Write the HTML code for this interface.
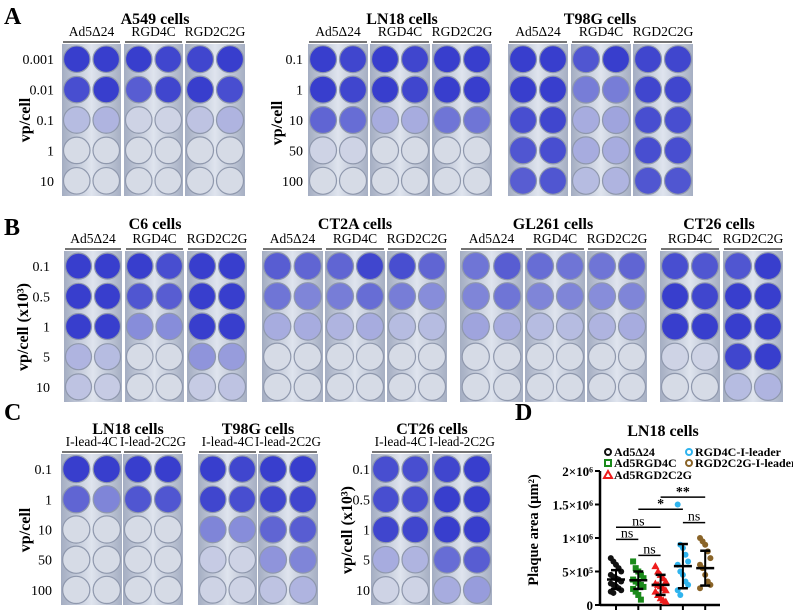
<!DOCTYPE html>
<html><head><meta charset="utf-8"><style>
html,body{margin:0;padding:0;background:#fff;width:793px;height:613px;overflow:hidden}
svg{display:block;font-family:"Liberation Serif",serif}
</style></head><body>
<svg id="fig" width="793" height="613" viewBox="0 0 793 613">
<defs>
<linearGradient id="pg" x1="0" y1="0" x2="1" y2="0">
<stop offset="0" stop-color="#a4adc2"/><stop offset="0.5" stop-color="#dfe4ee"/><stop offset="1" stop-color="#a6afc3"/>
</linearGradient>
</defs>
<g id="plates"></g>
<g id="labels">
<text x="4" y="24" font-size="24" font-weight="bold">A</text>
<text x="4" y="235" font-size="24" font-weight="bold">B</text>
<text x="4" y="420" font-size="24" font-weight="bold">C</text>
<text x="515" y="420" font-size="24" font-weight="bold">D</text>
<text transform="translate(30,120) rotate(-90)" text-anchor="middle" font-size="16" font-weight="bold">vp/cell</text>
<text transform="translate(282,123) rotate(-90)" text-anchor="middle" font-size="16" font-weight="bold">vp/cell</text>
<text transform="translate(28,327) rotate(-90)" text-anchor="middle" font-size="16" font-weight="bold">vp/cell (x10³)</text>
<text transform="translate(30,530) rotate(-90)" text-anchor="middle" font-size="16" font-weight="bold">vp/cell</text>
<text transform="translate(352,530) rotate(-90)" text-anchor="middle" font-size="16" font-weight="bold">vp/cell (x10³)</text>
</g>
<g id="chart"></g>
</svg>
<script>
const NS="http://www.w3.org/2000/svg";
function mk(parent,tag,attrs,text){const e=document.createElementNS(NS,tag);for(const k in attrs)e.setAttribute(k,attrs[k]);if(text!==undefined)e.textContent=text;parent.appendChild(e);return e;}

/* ---------- well plate data (stain intensity 0..1) ---------- */
const rowsA1=["0.001","0.01","0.1","1","10"];
const rowsA2=["0.1","1","10","50","100"];
const rowsB=["0.1","0.5","1","5","10"];
const rowsC1=["0.1","1","10","50","100"];
const rowsC2=["0.1","0.5","1","5","10"];
const groups=[
 {name:"A549 cells",tx:155,ty:24,hy:38,ly:42,py:44,ph:152,rowLabels:rowsA1,lx:54,plates:[
  {h:"Ad5Δ24",x:62,w:59,v:[[1,1],[.9,1],[.2,.25],[0,0],[0,0]]},
  {h:"RGD4C",x:124,w:59,v:[[1,.95],[.8,.95],[.05,.05],[0,0],[0,0]]},
  {h:"RGD2C2G",x:185,w:60,v:[[.95,1],[1,.9],[.15,.25],[0,0],[0,0]]}]},
 {name:"LN18 cells",tx:402,ty:24,hy:38,ly:42,py:44,ph:152,rowLabels:rowsA2,lx:303,plates:[
  {h:"Ad5Δ24",x:308,w:60,v:[[1,.95],[1,.95],[.75,.7],[.05,.05],[0,0]]},
  {h:"RGD4C",x:370,w:60,v:[[1,.95],[1,.95],[.3,.3],[0,0],[0,0]]},
  {h:"RGD2C2G",x:432,w:60,v:[[1,1],[1,1],[.65,.65],[0,0],[0,0]]}]},
 {name:"T98G cells",tx:600,ty:24,hy:38,ly:42,py:44,ph:152,rowLabels:null,plates:[
  {h:"Ad5Δ24",x:508,w:60,v:[[1,1],[1,1],[.9,.95],[.85,.9],[.8,.85]]},
  {h:"RGD4C",x:571,w:60,v:[[.85,1],[.6,.6],[.3,.35],[.3,.3],[.2,.25]]},
  {h:"RGD2C2G",x:633,w:60,v:[[.95,.95],[.95,.95],[.9,.9],[.9,.9],[.85,.85]]}]},
 {name:"C6 cells",tx:155,ty:229,hy:245,ly:249,py:251,ph:151,rowLabels:rowsB,lx:50,plates:[
  {h:"Ad5Δ24",x:64,w:58,v:[[1,1],[1,1],[1,1],[.25,.2],[.15,.1]]},
  {h:"RGD4C",x:125,w:59,v:[[1,.9],[.85,.8],[.5,.5],[0,0],[0,0]]},
  {h:"RGD2C2G",x:187,w:60,v:[[1,1],[1,1],[1,1],[.45,.4],[.1,.15]]}]},
 {name:"CT2A cells",tx:355,ty:229,hy:245,ly:249,py:251,ph:151,rowLabels:null,plates:[
  {h:"Ad5Δ24",x:262,w:61,v:[[.8,.75],[.65,.55],[.3,.3],[0,0],[0,0]]},
  {h:"RGD4C",x:325,w:60,v:[[.75,.95],[.6,.7],[.25,.3],[0,0],[0,0]]},
  {h:"RGD2C2G",x:387,w:60,v:[[.9,.75],[.6,.5],[.2,.2],[0,0],[0,0]]}]},
 {name:"GL261 cells",tx:553,ty:229,hy:245,ly:249,py:251,ph:151,rowLabels:null,plates:[
  {h:"Ad5Δ24",x:460,w:63,v:[[.65,.8],[.55,.65],[.35,.3],[0,0],[0,0]]},
  {h:"RGD4C",x:525,w:60,v:[[.7,.65],[.55,.55],[.2,.2],[0,0],[0,0]]},
  {h:"RGD2C2G",x:587,w:60,v:[[.65,.75],[.5,.55],[.25,.3],[0,0],[0,0]]}]},
 {name:"CT26 cells",tx:719,ty:229,hy:245,ly:249,py:251,ph:151,rowLabels:null,plates:[
  {h:"RGD4C",x:660,w:60,v:[[.9,.85],[1,.95],[1,1],[.05,.05],[0,0]]},
  {h:"RGD2C2G",x:723,w:60,v:[[.85,1],[1,1],[1,1],[.95,1],[.2,.25]]}]},
 {name:"LN18 cells",tx:128,ty:434,hy:448,ly:452,py:454,ph:151,rowLabels:rowsC1,lx:52,plates:[
  {h:"I-lead-4C",x:61,w:61,v:[[1,1],[.75,.55],[0,0],[0,0],[0,0]]},
  {h:"I-lead-2C2G",x:123,w:60,v:[[1,1],[.85,.85],[0,0],[0,0],[0,0]]}]},
 {name:"T98G cells",tx:258,ty:434,hy:448,ly:452,py:454,ph:151,rowLabels:null,plates:[
  {h:"I-lead-4C",x:198,w:59,v:[[1,.95],[.95,.9],[.55,.5],[.1,.05],[.05,.05]]},
  {h:"I-lead-2C2G",x:258,w:60,v:[[1,1],[.95,.95],[.75,.8],[.45,.55],[.15,.25]]}]},
 {name:"CT26 cells",tx:432,ty:434,hy:448,ly:452,py:454,ph:151,rowLabels:rowsC2,lx:370,plates:[
  {h:"I-lead-4C",x:371,w:59,v:[[.9,.9],[.9,.9],[.95,.95],[.3,.25],[.05,.05]]},
  {h:"I-lead-2C2G",x:432,w:60,v:[[.95,1],[1,1],[1,1],[.7,.8],[.3,.4]]}]}
];
function wellColor(t){const a=[214,219,230],b=[56,62,205];const c=a.map((v,i)=>Math.round(v+(b[i]-v)*t));return `rgb(${c[0]},${c[1]},${c[2]})`;}
const pg=document.getElementById('plates');
groups.forEach((g,gi)=>{
  const gg=mk(pg,'g',{});
  
  
  const t=mk(gg,'text',{x:g.tx,y:g.ty,'text-anchor':'middle','font-size':16,'font-weight':'bold'},g.name);
  
  
  const rh=g.ph/5;
  g.plates.forEach(p=>{
    const h=mk(gg,'text',{x:p.x+p.w/2,y:g.hy-2,'text-anchor':'middle','font-size':13.5},p.h);
    
    
    const tl=h.getComputedTextLength();
    if(tl>p.w+6){h.setAttribute('textLength',p.w+6);h.setAttribute('lengthAdjust','spacingAndGlyphs');}
    const ul=mk(gg,'line',{x1:p.x+1,x2:p.x+p.w-1,y1:g.ly,y2:g.ly,stroke:'#222','stroke-width':1.2});
    
    
    const r=mk(gg,'rect',{x:p.x,y:g.py,width:p.w,height:g.ph,fill:'url(#pg)'});
    
    
    const rad=Math.min(p.w/4-1.5,rh/2-1.5);
    p.v.forEach((row,ri)=>{row.forEach((val,ci)=>{
      const c=mk(gg,'circle',{cx:p.x+p.w*(ci*2+1)/4,cy:g.py+rh*(ri+0.5),r:rad,fill:wellColor(val),stroke:'#8f98ad','stroke-width':1.2});
      
      
    });});
  });
  if(g.rowLabels){g.rowLabels.forEach((l,ri)=>{
    const tl=mk(gg,'text',{x:g.lx,y:g.py+rh*(ri+0.5)+5,'text-anchor':'end','font-size':14},l);
    
    
  });}
});

/* ---------- Panel D chart data ---------- */
const groupNames=["Ad5Δ24","Ad5RGD4C","Ad5RGD2C2G","RGD4C-I-leader","RGD2C2G-I-leader"];
const g1=[7,6.5,6,5.5,5,4.5,4.2,4,3.8,3.5,3.2,3,2.8,2.5,2.2,2,1.8];
const g2=[6.5,5.5,5,4.5,4,3.8,3.5,3.3,3,2.7,2.4,2,1.5,0.8];
const g3=[5.8,5,4.5,4,3.5,3.2,3,2.8,2.5,2.2,2,1.5,1,0.7,0.5];
const g4=[15,9,8.5,7.5,6.5,6,5,4.5,3.5,3,2.2,1.5];
const g5=[10,9.5,9,8,7,6,5.5,4.5,3.5,3,2.5];
const means=[3.8,3.7,3.0,5.8,5.5];
const sds=[1.4,1.3,1.5,3.3,2.6];
const yTicks=[0,5,10,15,20];
const yTickLabels=["0","5×10⁵","1×10⁶","1.5×10⁶","2×10⁶"];
const sigPairs=[[0,1,"ns",9.8],[1,2,"ns",7.4],[0,2,"ns",11.6],[1,3,"*",14.3],[2,4,"**",16.1],[3,4,"ns",12.3]];
const colors=["#111","#1a8a1a","#ee1c1c","#2fb4ee","#8a6428"];
const shapes=["circle","square","triangle","circle","circle"];

const X0=600,Y0=605,Y20=471,GX0=616,GDX=22.3;
const ys=v=>Y0-(v/20)*(Y0-Y20);
const xs=i=>GX0+i*GDX;
const ch=document.getElementById('chart');
let e=mk(ch,'text',{x:663,y:436,'text-anchor':'middle','font-size':16,'font-weight':'bold'},'LN18 cells');


e=mk(ch,'text',{transform:'translate(538,530) rotate(-90)','text-anchor':'middle','font-size':14.5,'font-weight':'bold'},'Plaque area (µm²)');


e=mk(ch,'line',{x1:X0,x2:X0,y1:Y20,y2:Y0,stroke:'#000','stroke-width':2.5});


e=mk(ch,'line',{x1:X0,x2:720,y1:Y0,y2:Y0,stroke:'#000','stroke-width':2.5});


yTicks.forEach((t,i)=>{
  const tk=mk(ch,'line',{x1:X0-5,x2:X0,y1:ys(t),y2:ys(t),stroke:'#000','stroke-width':2});
  
  
  const tl=mk(ch,'text',{x:X0-7,y:ys(t)+5,'text-anchor':'end','font-size':13,'font-weight':'bold'},yTickLabels[i]);
  
  
});
groupNames.forEach((n,i)=>{
  const tk=mk(ch,'line',{x1:xs(i),x2:xs(i),y1:Y0,y2:Y0+5,stroke:'#000','stroke-width':2});
  
  
});
function marker(parent,shape,x,y,col,s){
  if(shape==="square")return mk(parent,'rect',{x:x-s,y:y-s,width:2*s,height:2*s,fill:col});
  if(shape==="triangle")return mk(parent,'polygon',{points:`${x},${y-s-1} ${x-s-1},${y+s} ${x+s+1},${y+s}`,fill:col});
  return mk(parent,'circle',{cx:x,cy:y,r:s,fill:col});
}
[g1,g2,g3,g4,g5].forEach((arr,gi)=>{
  const sg=mk(ch,'g',{});
  
  
  arr.forEach((v,k)=>{
    const off=((k%5)-2)*2.6;
    const m=marker(sg,shapes[gi],xs(gi)+off,ys(v),colors[gi],3);
    
    
  });
  const mx=xs(gi),m=means[gi],s=sds[gi];
  const el=mk(sg,'line',{x1:mx,x2:mx,y1:ys(m+s),y2:ys(m-s),stroke:'#000','stroke-width':2});
  
  
  [[m+s,5],[m-s,5],[m,9]].forEach(([v,hw])=>{
    const c=mk(sg,'line',{x1:mx-hw,x2:mx+hw,y1:ys(v),y2:ys(v),stroke:'#000','stroke-width':2.5});
    
    
  });
});
sigPairs.forEach(([a,b,lab,v])=>{
  const y=ys(v);
  const l=mk(ch,'line',{x1:xs(a),x2:xs(b),y1:y,y2:y,stroke:'#000','stroke-width':1.5});
  
  
  const t=mk(ch,'text',{x:(xs(a)+xs(b))/2,y:lab==="ns"?y-2:y-1,'text-anchor':'middle','font-size':14,'font-weight':lab==="ns"?'normal':'bold'},lab);
  
  
});
const legPos=[[608,452],[608,463],[608,475],[689,452],[689,463]];
groupNames.forEach((n,i)=>{
  const lg=mk(ch,'g',{});
  
  
  const [lx,ly]=legPos[i];
  if(shapes[i]==="circle")mk(lg,'circle',{cx:lx,cy:ly,r:3,fill:'none',stroke:colors[i],'stroke-width':2});
  else if(shapes[i]==="square")mk(lg,'rect',{x:lx-3,y:ly-3,width:6,height:6,fill:'none',stroke:colors[i],'stroke-width':2});
  else mk(lg,'polygon',{points:`${lx},${ly-4} ${lx-4},${ly+3} ${lx+4},${ly+3}`,fill:'none',stroke:colors[i],'stroke-width':2});
  mk(lg,'text',{x:lx+6,y:ly+4,'font-size':12,'font-weight':'bold'},n);
});
</script>
</body></html>
